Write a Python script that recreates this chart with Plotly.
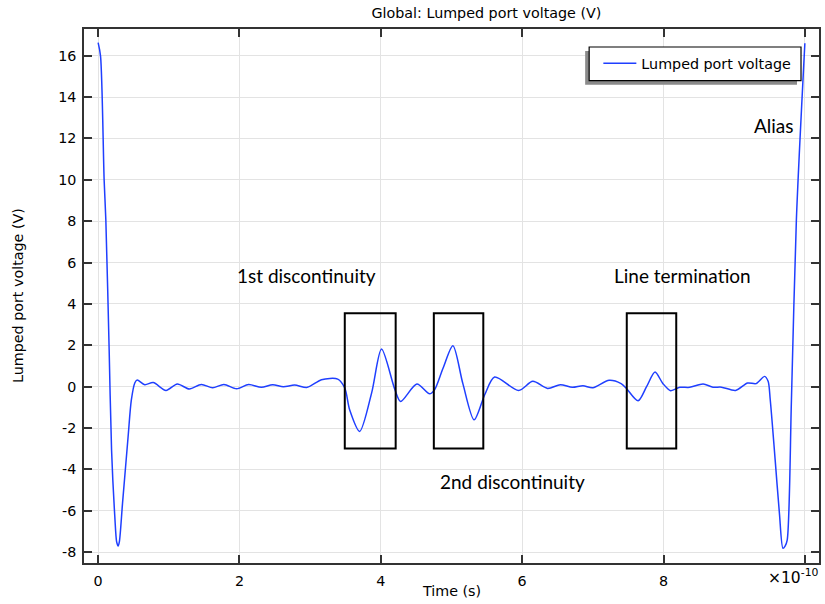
import plotly.graph_objects as go

# Time in units of 1e-10 s, voltage in V
time_e10 = [0.0, 0.034, 0.085, 0.109, 0.156, 0.19, 0.236, 0.262, 0.283, 0.30, 0.345, 0.424, 0.47, 0.52, 0.552,
            0.66, 0.78, 0.96, 1.12, 1.29, 1.46, 1.62, 1.78, 1.96, 2.13, 2.31, 2.47, 2.62, 2.78, 2.96,
            3.16, 3.39, 3.49, 3.56, 3.70, 3.87, 4.01, 4.20, 4.28, 4.51, 4.69, 4.76, 4.88, 5.02, 5.16,
            5.32, 5.47, 5.61, 5.95, 6.15, 6.36, 6.54, 6.71, 6.86, 7.00, 7.23, 7.40, 7.47, 7.64, 7.76,
            7.88, 7.99, 8.10, 8.23, 8.37, 8.56, 8.70, 8.82, 9.02, 9.19, 9.31, 9.43, 9.48, 9.51, 9.58,
            9.64, 9.69, 9.72, 9.75, 9.81, 9.88, 10.0]
voltage = [16.63, 15.98, 9.99, 8.06, 1.77, -3.06, -6.28, -7.5, -7.7, -7.5, -5.64, -2.42, -0.64, 0.19, 0.32,
           0.1, 0.2, -0.18, 0.13, -0.11, 0.11, -0.05, 0.11, -0.1, 0.11, -0.03, 0.1, 0.0, 0.08, -0.03,
           0.34, 0.37, -0.06, -1.13, -2.16, -0.3, 1.82, -0.15, -0.71, 0.13, -0.34, -0.15, 0.89, 1.98, 0.16,
           -1.6, -0.39, 0.47, -0.18, 0.26, -0.08, 0.1, -0.03, 0.05, -0.05, 0.31, 0.15, -0.06, -0.68, 0.0,
           0.71, 0.16, -0.19, -0.03, -0.03, 0.13, -0.02, -0.02, -0.18, 0.18, 0.15, 0.5, 0.26, -0.63, -3.55,
           -6.12, -7.81, -7.7, -7.41, -0.63, 8.07, 16.6]

x_tick_vals = [0, 2, 4, 6, 8]
x_tick_text = ["0", "2", "4", "6", "8"]
x_extra_tick = [10]
x_exponent_label = "×10<sup>-10</sup>"
y_tick_vals = [-8, -6, -4, -2, 0, 2, 4, 6, 8, 10, 12, 14, 16]
y_tick_text = ["-8", "-6", "-4", "-2", "0", "2", "4", "6", "8", "10", "12", "14", "16"]

# Highlight boxes: (t_start, t_end) in 1e-10 s, voltage bounds
box_spans = [(3.49, 4.21), (4.75, 5.45), (7.48, 8.18)]
box_v_low, box_v_high = -2.98, 3.55

labels = ["1st discontinuity", "2nd discontinuity", "Line termination", "Alias"]
label_pos = [(2.95, 5.4), (5.87, -4.56), (8.27, 5.4), (9.57, 12.65)]

E = 1e-10
t = [v * E for v in time_e10]

W, H = 825, 604
ML, MR, MT, MB = 84, 5.5, 29, 41
PW, PH = W - ML - MR, H - MT - MB


def px(xp):
    return (xp - ML) / PW


def py(yp):
    return (H - MB - yp) / PH


fig = go.Figure()
fig.add_trace(go.Scatter(x=t, y=voltage, mode="lines", name="Lumped port voltage",
                         line=dict(color="#1f3fff", width=1.5, shape="spline", smoothing=0.8)))

shapes = []
# legend frame with shadow
shapes.append(dict(type="rect", xref="paper", yref="paper", x0=px(585.5), x1=px(797.5), y0=py(84.7), y1=py(51),
                   fillcolor="#8a8a8a", line=dict(width=0), layer="above"))
shapes.append(dict(type="rect", xref="paper", yref="paper", x0=px(589.5), x1=px(801.5), y0=py(80.7), y1=py(47),
                   fillcolor="white", line=dict(color="black", width=1.2), layer="above"))
for a, b in box_spans:
    shapes.append(dict(type="rect", xref="x", yref="y", x0=a * E, x1=b * E, y0=box_v_low, y1=box_v_high,
                       line=dict(color="black", width=2), fillcolor="rgba(0,0,0,0)", layer="above"))

annotations = []
for txt, (ax_, ay_) in zip(labels, label_pos):
    annotations.append(dict(x=ax_ * E, y=ay_, xref="x", yref="y", text=txt, showarrow=False,
                            font=dict(family="Lato", size=19, color="black")))

axis_font = dict(family="DejaVu Sans", size=14.3, color="black")
annotations.append(dict(x=px(452), y=py(591), xref="paper", yref="paper", text="Time (s)", showarrow=False,
                        xanchor="center", yanchor="middle", font=axis_font))
annotations.append(dict(x=px(18), y=py(296), xref="paper", yref="paper", text="Lumped port voltage (V)",
                        showarrow=False, textangle=-90, xanchor="center", yanchor="middle", font=axis_font))
annotations.append(dict(x=px(822), y=py(576), xref="paper", yref="paper", text=x_exponent_label,
                        showarrow=False, xanchor="right", yanchor="middle",
                        font=dict(family="DejaVu Sans", size=15.5, color="black")))

axis_common = dict(showgrid=True, gridcolor="#e3e3e3", gridwidth=1, showline=True, linecolor="#333333",
                   linewidth=1.5, mirror="ticks", ticks="inside", ticklen=8, tickwidth=1.5, tickcolor="#333333",
                   zeroline=False, automargin=False, tickfont=axis_font)

fig.update_layout(
    width=W, height=H,
    margin=dict(l=ML, r=MR, t=MT, b=MB, autoexpand=False),
    paper_bgcolor="white", plot_bgcolor="white",
    title=dict(text="Global: Lumped port voltage (V)", x=451.7 / W, xanchor="center", xref="paper",
               yref="container", y=1 - 13 / H, yanchor="middle", font=axis_font),
    xaxis=dict(range=[-0.2 * E, 10.2 * E], tickvals=[v * E for v in x_tick_vals], ticktext=x_tick_text,
               ticklabelstandoff=4,
               minor=dict(tickvals=[v * E for v in x_extra_tick], ticks="inside", ticklen=8, tickwidth=1.5,
                          tickcolor="#333333", showgrid=True, gridcolor="#e3e3e3", gridwidth=1),
               **axis_common),
    yaxis=dict(range=[-8.52, 17.29], tickvals=y_tick_vals, ticktext=y_tick_text, ticklabelstandoff=3,
               **axis_common),
    showlegend=True,
    legend=dict(x=px(598.7), xanchor="left", y=py(63.5), yanchor="middle", bgcolor="rgba(0,0,0,0)",
                borderwidth=0, itemwidth=33, font=axis_font),
    shapes=shapes,
    annotations=annotations,
)

fig.write_html("out.html", config={"displayModeBar": False},
               post_script="document.body.style.margin='0';")
